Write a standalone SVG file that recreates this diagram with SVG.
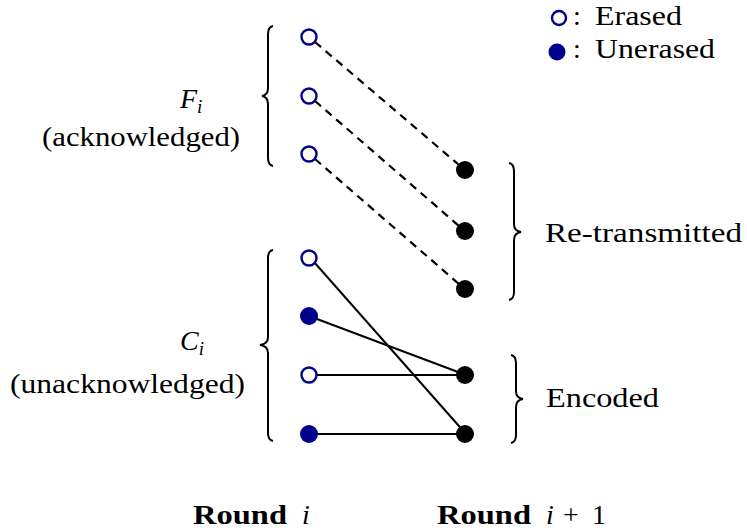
<svg xmlns="http://www.w3.org/2000/svg" width="747" height="531" viewBox="0 0 747 531">
<style>
text{font-family:"Liberation Serif","DejaVu Serif",serif;font-size:28px;fill:#000}
.it{font-style:italic}
.b{font-weight:bold}
.open{fill:#fff;stroke:#00008B;stroke-width:2.4}
.blue{fill:#00008B}
.blk{fill:#000}
.dash{stroke:#000;stroke-width:2.2;stroke-dasharray:8 6;fill:none}
.sol{stroke:#000;stroke-width:2;fill:none}
.brace{stroke:#000;stroke-width:2;fill:none}
</style>
<rect width="747" height="531" fill="#fff"/>
<g id="connectors">
<line class="dash" x1="315" y1="42" x2="459" y2="165"/>
<line class="dash" x1="315" y1="101" x2="459" y2="226"/>
<line class="dash" x1="315" y1="159" x2="459" y2="284"/>
<line class="sol" x1="314" y1="262" x2="466" y2="434"/>
<line class="sol" x1="309" y1="316" x2="466" y2="375"/>
<line class="sol" x1="317" y1="375" x2="466" y2="375"/>
<line class="sol" x1="309" y1="434" x2="466" y2="434"/>
</g>
<g id="left-nodes">
<circle id="f1" class="open" cx="309" cy="37" r="7.5"/>
<circle id="f2" class="open" cx="309" cy="96" r="7.5"/>
<circle id="f3" class="open" cx="309" cy="154" r="7.5"/>
<circle id="c1" class="open" cx="309" cy="258" r="7.5"/>
<circle id="c2" class="blue" cx="309" cy="316" r="9"/>
<circle id="c3" class="open" cx="309" cy="375" r="7.5"/>
<circle id="c4" class="blue" cx="309" cy="434" r="9"/>
</g>
<g id="right-nodes">
<circle id="r1" class="blk" cx="465" cy="170" r="9"/>
<circle id="r2" class="blk" cx="465" cy="231" r="9"/>
<circle id="r3" class="blk" cx="465" cy="289" r="9"/>
<circle id="e1" class="blk" cx="465" cy="375" r="9"/>
<circle id="e2" class="blk" cx="465" cy="434" r="9"/>
</g>
<g id="brace-F">
<path class="brace" d="M273,26 Q268,27 268,34 L268,88 Q268,95 262,96 Q268,97 268,104 L268,158 Q268,165 273,166"/>
<text x="180" y="108" class="it">F<tspan font-size="19" dy="5">i</tspan></text>
<text x="42" y="146" textLength="198" lengthAdjust="spacingAndGlyphs">(acknowledged)</text>
</g>
<g id="brace-C">
<path class="brace" d="M273,250 Q268,251 268,258 L268,337 Q268,344 260,345 Q268,346 268,353 L268,433 Q268,440 273,441"/>
<text x="180" y="350" class="it">C<tspan font-size="19" dy="5">i</tspan></text>
<text x="10" y="393" textLength="235" lengthAdjust="spacingAndGlyphs">(unacknowledged)</text>
</g>
<g id="brace-R">
<path class="brace" d="M509,163 Q514,164 514,171 L514,224 Q514,231 521,232 Q514,233 514,240 L514,292 Q514,299 509,300"/>
<text x="545" y="242" textLength="197" lengthAdjust="spacingAndGlyphs">Re-transmitted</text>
</g>
<g id="brace-E">
<path class="brace" d="M511,355 Q516,356 516,363 L516,391 Q516,398 523,399 Q516,400 516,407 L516,435 Q516,442 511,443"/>
<text x="546" y="407" textLength="113" lengthAdjust="spacingAndGlyphs">Encoded</text>
</g>
<g id="legend">
<circle class="open" cx="559" cy="18" r="7"/>
<text x="573" y="25">:</text>
<text x="595" y="25" textLength="87" lengthAdjust="spacingAndGlyphs">Erased</text>
<circle class="blue" cx="557" cy="52" r="8.5"/>
<text x="573" y="58">:</text>
<text x="595" y="58" textLength="120" lengthAdjust="spacingAndGlyphs">Unerased</text>
</g>
<g id="round-labels">
<text x="193" y="524"><tspan class="b" textLength="94" lengthAdjust="spacingAndGlyphs">Round</tspan><tspan class="it" x="302">i</tspan></text>
<text x="437" y="524"><tspan class="b" textLength="94" lengthAdjust="spacingAndGlyphs">Round</tspan><tspan class="it" x="546">i</tspan><tspan x="563">+</tspan><tspan x="592">1</tspan></text>
</g>
</svg>
